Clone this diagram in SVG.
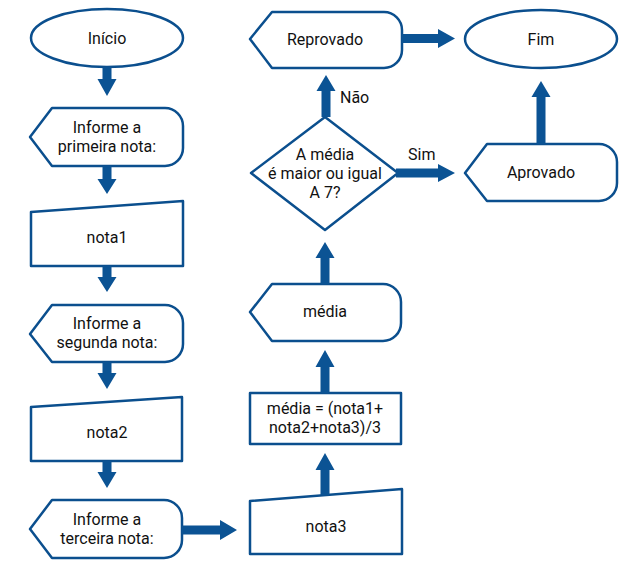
<svg xmlns="http://www.w3.org/2000/svg" width="635" height="577" viewBox="0 0 635 577">
<style>
.s{fill:#fff;stroke:#0b4f8e;stroke-width:2.5;stroke-linejoin:round}
.t{font-family:Roboto,"Liberation Sans",sans-serif;font-size:16px;font-weight:400;fill:#111;text-anchor:middle}
.l{font-family:Roboto,"Liberation Sans",sans-serif;font-size:16px;font-weight:400;fill:#111}
.a{fill:#0b5394}
</style>
<rect width="635" height="577" fill="#fff"/>
<g id="inicio"><ellipse class="s" cx="107" cy="38" rx="76" ry="29"/><text class="t" x="107" y="44">Início</text></g>
<g id="informe1"><path class="s" d="M30,137 L52,108 L165,108 A18,18 0 0 1 183,126 L183,148 A18,18 0 0 1 165,166 L52,166 Z"/><text class="t" x="107" y="133">Informe a</text><text class="t" x="107" y="152">primeira nota:</text></g>
<g id="nota1"><path class="s" d="M31,212 L183,201 L183,266 L31,266 Z"/><text class="t" x="107" y="243">nota1</text></g>
<g id="informe2"><path class="s" d="M30,334 L52,305 L165,305 A18,18 0 0 1 183,323 L183,344 A18,18 0 0 1 165,362 L52,362 Z"/><text class="t" x="107" y="329">Informe a</text><text class="t" x="107" y="348">segunda nota:</text></g>
<g id="nota2"><path class="s" d="M31,407 L182,397 L182,461 L31,461 Z"/><text class="t" x="107" y="438">nota2</text></g>
<g id="informe3"><path class="s" d="M30,529 L52,500 L164,500 A18,18 0 0 1 182,518 L182,540 A18,18 0 0 1 164,558 L52,558 Z"/><text class="t" x="107" y="525">Informe a</text><text class="t" x="107" y="544">terceira nota:</text></g>
<g id="nota3"><path class="s" d="M250,501 L402,489 L402,554 L250,554 Z"/><text class="t" x="326" y="532">nota3</text></g>
<g id="calculo"><rect class="s" x="250" y="393" width="151" height="51"/><text class="t" x="325" y="414">média = (nota1+</text><text class="t" x="325" y="433">nota2+nota3)/3</text></g>
<g id="media"><path class="s" d="M250,312 L272,284 L383,284 A18,18 0 0 1 401,302 L401,323 A18,18 0 0 1 383,341 L272,341 Z"/><text class="t" x="325" y="317">média</text></g>
<g id="decisao"><path class="s" d="M325,117 L398,173 L325,230 L251,173 Z"/><text class="t" x="325" y="160">A média</text><text class="t" x="325" y="179">é maior ou igual</text><text class="t" x="325" y="198">A 7?</text></g>
<g id="reprovado"><path class="s" d="M250,39 L272,12 L384,12 A18,18 0 0 1 402,30 L402,50 A18,18 0 0 1 384,68 L272,68 Z"/><text class="t" x="325" y="45">Reprovado</text></g>
<g id="fim"><ellipse class="s" cx="541" cy="39" rx="76" ry="29"/><text class="t" x="541" y="45">Fim</text></g>
<g id="aprovado"><path class="s" d="M465,173 L487,144 L599,144 A18,18 0 0 1 617,162 L617,183 A18,18 0 0 1 599,201 L487,201 Z"/><text class="t" x="541" y="178">Aprovado</text></g>
<g id="connectors">
<polygon class="a" points="102.5,67 111.5,67 111.5,79 116.5,79 107,96 97.5,79 102.5,79"/>
<polygon class="a" points="102.5,166 111.5,166 111.5,179 116.5,179 107,194 97.5,179 102.5,179"/>
<polygon class="a" points="102.5,266 111.5,266 111.5,277 116.5,277 107,292 97.5,277 102.5,277"/>
<polygon class="a" points="102.5,362 111.5,362 111.5,373 116.5,373 107,389 97.5,373 102.5,373"/>
<polygon class="a" points="102.5,461 111.5,461 111.5,472 116.5,472 107,488 97.5,472 102.5,472"/>
<polygon class="a" points="182,525.5 220,525.5 220,520 237,530 220,540 220,534.5 182,534.5"/>
<polygon class="a" points="320.5,495 329.5,495 329.5,470 334.5,470 325,453 315.5,470 320.5,470"/>
<polygon class="a" points="320.5,393 329.5,393 329.5,367 334.5,367 325,350 315.5,367 320.5,367"/>
<polygon class="a" points="320.5,284 329.5,284 329.5,258 334.5,258 325,242 315.5,258 320.5,258"/>
<polygon class="a" points="321.5,117 330.5,117 330.5,91 335.5,91 326,75 316.5,91 321.5,91"/>
<text class="l" x="340" y="103">Não</text>
<polygon class="a" points="402,34 438,34 438,29 455,38.5 438,48 438,43 402,43"/>
<polygon class="a" points="396,168.5 438,168.5 438,164 455,173 438,182 438,177.5 396,177.5"/>
<text class="l" x="408" y="160">Sim</text>
<polygon class="a" points="536.5,144 545.5,144 545.5,97 550.5,97 541,81 531.5,97 536.5,97"/>
</g>
</svg>
